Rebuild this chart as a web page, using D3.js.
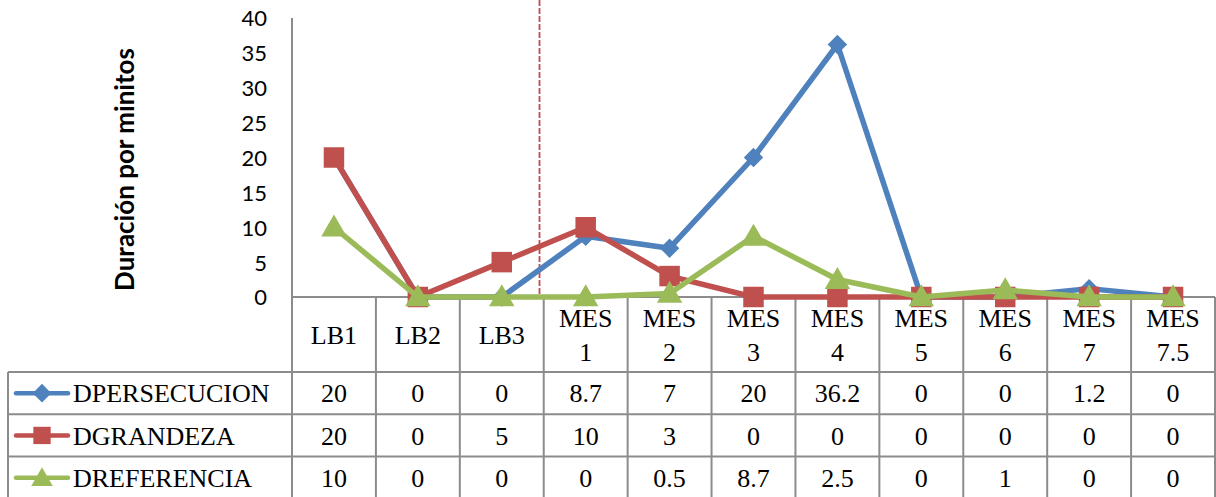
<!DOCTYPE html>
<html>
<head>
<meta charset="utf-8">
<script src="https://cdn.jsdelivr.net/npm/d3@7"></script>
<style>
  html, body { margin: 0; padding: 0; background: #fff; }
  svg { display: block; }
  .serif { font-family: "Liberation Serif", "DejaVu Serif", serif; }
</style>
</head>
<body>
<svg id="chart" width="1216" height="497"></svg>
<script>
// Categories (two-line header labels in the data table)
const categories = ["LB1", "LB2", "LB3", "MES 1", "MES 2", "MES 3", "MES 4", "MES 5", "MES 6", "MES 7", "MES 7.5"];
const seriesNames = ["DPERSECUCION", "DGRANDEZA", "DREFERENCIA"];
const dpersecucion = [20, 0, 0, 8.7, 7, 20, 36.2, 0, 0, 1.2, 0];
const dgrandeza = [20, 0, 5, 10, 3, 0, 0, 0, 0, 0, 0];
const dreferencia = [10, 0, 0, 0, 0.5, 8.7, 2.5, 0, 1, 0, 0];
const yTicks = [0, 5, 10, 15, 20, 25, 30, 35, 40];
const yTitle = "Duración por minitos";

const seriesValues = [dpersecucion, dgrandeza, dreferencia];
const colors = ["#4F81BD", "#C0504D", "#9BBB59"];
const symbols = [d3.symbolDiamond2, d3.symbolSquare, d3.symbolTriangle];

const svg = d3.select("#chart");

// Plot geometry
const plotLeft = 292, plotRight = 1215, plotTop = 18, plotBottom = 297;
const tableLeft = 8;
const headerBottom = 372;
const rowH = 42.3;
const gridColor = "#8c8c8c";
const tableFont = 26;

const x = d3.scaleBand().domain(categories).range([plotLeft, plotRight]).padding(0);
const y = d3.scaleLinear().domain([0, 40]).range([plotBottom, plotTop]);
const cx = c => x(c) + x.bandwidth() / 2;

// Y axis (labels only, axis line drawn separately)
const yAxis = d3.axisLeft(y).tickValues(yTicks).tickSize(0).tickPadding(0);
const gy = svg.append("g").attr("transform", `translate(${plotLeft - 25},0)`).call(yAxis);
gy.select(".domain").remove();
gy.selectAll("text")
  .attr("font-family", "Lato, 'Open Sans', sans-serif")
  .attr("font-size", 22)
  .attr("fill", "#000")
  .attr("dy", "0.36em");

svg.append("text")
  .attr("transform", `translate(134,${(plotTop + plotBottom) / 2 + 12}) rotate(-90)`)
  .attr("text-anchor", "middle")
  .attr("font-family", "Lato, 'Open Sans', sans-serif")
  .attr("font-weight", "bold")
  .attr("font-size", 26)
  .attr("fill", "#000")
  .text(yTitle);

// Table grid
const tableBottom = 497 + 2;
const grid = svg.append("g").attr("stroke", gridColor).attr("stroke-width", 2).attr("fill", "none");
// value axis line
grid.append("line").attr("x1", plotLeft).attr("x2", plotLeft).attr("y1", plotTop).attr("y2", tableBottom);
// category axis / top of header row
grid.append("line").attr("x1", plotLeft).attr("x2", plotRight).attr("y1", plotBottom).attr("y2", plotBottom);
// vertical separators between categories and the right edge
categories.forEach(c => {
  const xr = x(c) + x.bandwidth();
  grid.append("line").attr("x1", xr).attr("x2", xr).attr("y1", plotBottom).attr("y2", tableBottom);
});
// left edge of legend column
grid.append("line").attr("x1", tableLeft).attr("x2", tableLeft).attr("y1", headerBottom).attr("y2", tableBottom);
// horizontal row lines
for (let r = 0; r < 3; r++) {
  const yy = headerBottom + r * rowH;
  grid.append("line").attr("x1", tableLeft).attr("x2", plotRight).attr("y1", yy).attr("y2", yy);
}

// Header labels
const header = svg.append("g").attr("class", "serif").attr("font-size", tableFont).attr("fill", "#000").attr("text-anchor", "middle");
categories.forEach(c => {
  const parts = c.split(" ");
  const midY = (plotBottom + headerBottom) / 2;
  if (parts.length === 1) {
    header.append("text").attr("x", cx(c)).attr("y", midY).attr("dy", "0.35em").text(c);
  } else {
    header.append("text").attr("x", cx(c)).attr("y", midY - 17).attr("dy", "0.35em").text(parts[0]);
    header.append("text").attr("x", cx(c)).attr("y", midY + 17).attr("dy", "0.35em").text(parts[1]);
  }
});

// Data rows with legend keys
seriesValues.forEach((vals, si) => {
  const rowMid = headerBottom + si * rowH + rowH / 2;
  const g = svg.append("g");
  g.append("line").attr("x1", 16).attr("x2", 68).attr("y1", rowMid).attr("y2", rowMid)
    .attr("stroke", colors[si]).attr("stroke-width", 4.5).attr("stroke-linecap", "round");
  g.append("path").attr("d", d3.symbol().type(symbols[si]).size(si === 0 ? 220 : si === 1 ? 300 : 200)())
    .attr("transform", `translate(42,${rowMid + (si === 2 ? 2 : 0)})`).attr("fill", colors[si]);
  g.append("text").attr("class", "serif").attr("x", 73).attr("y", rowMid).attr("dy", "0.35em")
    .attr("font-size", tableFont).attr("fill", "#000")
    .text(seriesNames[si]);
  vals.forEach((v, i) => {
    g.append("text").attr("class", "serif").attr("x", cx(categories[i])).attr("y", rowMid).attr("dy", "0.35em")
      .attr("text-anchor", "middle").attr("font-size", tableFont).attr("fill", "#000")
      .text(v);
  });
});

// Divider between baseline and monthly measurements
svg.append("line")
  .attr("x1", 539.5).attr("x2", 539.5).attr("y1", 0).attr("y2", plotBottom)
  .attr("stroke", "#C8484A").attr("stroke-width", 1.8).attr("stroke-dasharray", "6,2");

// Series lines and markers
const line = d3.line().x((d, i) => cx(categories[i])).y(d => y(d));
seriesValues.forEach((vals, si) => {
  const g = svg.append("g");
  g.append("path").datum(vals).attr("d", line)
    .attr("fill", "none").attr("stroke", colors[si]).attr("stroke-width", 5.5).attr("stroke-linejoin", "round");
  const sym = d3.symbol().type(symbols[si]).size(si === 0 ? 240 : si === 1 ? 420 : 280);
  g.selectAll("path.m").data(vals).join("path").attr("class", "m")
    .attr("d", sym())
    .attr("transform", (d, i) => `translate(${cx(categories[i])},${y(d) + (si === 2 ? 2 : 0)})`)
    .attr("fill", colors[si]);
});
</script>
</body>
</html>
